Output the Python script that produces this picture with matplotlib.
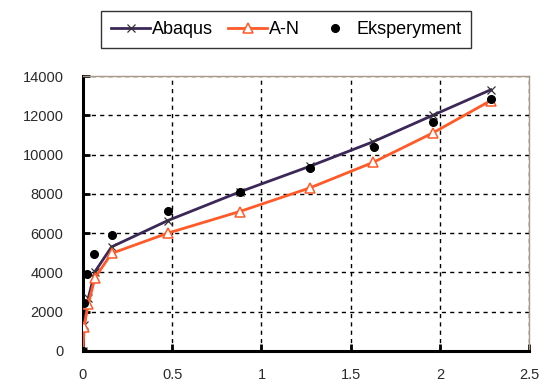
import matplotlib.pyplot as plt

plt.rcParams['font.family'] = ['Liberation Sans', 'DejaVu Sans']

# Abaqus and A-N share the same x positions
x_model = [0, 0.006, 0.03, 0.067, 0.16, 0.475, 0.878, 1.27, 1.625, 1.96, 2.285]
abaqus = [0, 1320, 2700, 4040, 5300, 6640, 8100, 9400, 10650, 12000, 13300]
a_n = [0, 1240, 2400, 3720, 4970, 6000, 7100, 8300, 9600, 11100, 12750]

# experiment
x_exp = [0, 0.003, 0.024, 0.062, 0.16, 0.474, 0.878, 1.27, 1.63, 1.96, 2.285]
eksp = [0, 2450, 3900, 4960, 5900, 7150, 8070, 9300, 10400, 11680, 12830]

fig = plt.figure(figsize=(5.57, 3.92), dpi=100)
ax = fig.add_axes([0.149, 0.1046, 0.801, 0.7015])

ax.plot(x_model, abaqus, color='#3b2858', lw=2, marker='x', ms=6, mew=0.9,
        mec='#333333', label='Abaqus', zorder=3)
ax.plot(x_model, a_n, color='#ff5a28', lw=2, marker='^', ms=7, mfc='white',
        mec='#ff5a28', mew=1.1, label='A-N', zorder=3)
ax.plot(x_exp, eksp, ls='none', marker='o', ms=5.5, color='black',
        label='Eksperyment', zorder=4)

ax.set_xlim(0, 2.5)
ax.set_ylim(0, 14000)
ax.set_xticks([0, 0.5, 1, 1.5, 2, 2.5])
ax.set_xticklabels(['0', '0.5', '1', '1.5', '2', '2.5'])
ax.set_yticks(range(0, 14001, 2000))

ax.grid(True, color='black', ls=(0, (3, 3)), lw=1)
ax.set_axisbelow(True)

for s in ['left', 'bottom']:
    ax.spines[s].set_linewidth(2.2)
    ax.spines[s].set_color('black')
for s in ['top', 'right']:
    ax.spines[s].set_linewidth(1)
    ax.spines[s].set_color('#a89888')

ax.tick_params(direction='in', length=5, width=2, labelsize=10.5,
               colors='black', labelcolor='#2a2a2a')
ax.tick_params(axis='x', pad=12)
ax.tick_params(axis='y', pad=14)

leg = fig.legend(loc='upper left', bbox_to_anchor=(0.181, 0.972), ncol=3,
                 frameon=True, fancybox=False, edgecolor='black',
                 fontsize=13, handlelength=2.2, columnspacing=0.8,
                 handletextpad=0.1, borderpad=0.55, borderaxespad=0)
leg.get_frame().set_linewidth(1)

fig.savefig('out.png', dpi=100)
